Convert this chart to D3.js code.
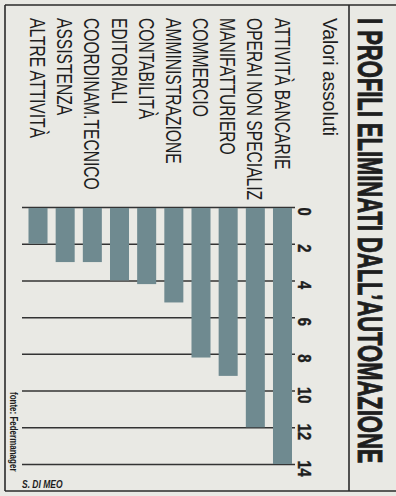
<!DOCTYPE html>
<html>
<head>
<meta charset="utf-8">
<script src="https://cdn.jsdelivr.net/npm/d3@7"></script>
<style>
  html, body { margin: 0; padding: 0; background: #e9e9e4; }
  svg { display: block; }
  text { font-family: "Liberation Sans", Arial, sans-serif; fill: #1e1e1e; }
</style>
</head>
<body>
<svg id="chart" width="396" height="496"></svg>
<script>
// ---- data ----
const categories = [
  "ATTIVITÀ BANCARIE",
  "OPERAI NON SPECIALIZ",
  "MANIFATTURIERO",
  "COMMERCIO",
  "AMMINISTRAZIONE",
  "CONTABILITÀ",
  "EDITORIALI",
  "COORDINAM.TECNICO",
  "ASSISTENZA",
  "ALTRE ATTIVITÀ"
];
const values = [14, 12, 9.2, 8.2, 5.2, 4.2, 4, 3, 3, 2];
const tickValues = [0, 2, 4, 6, 8, 10, 12, 14];
const title = "I PROFILI ELIMINATI DALL\u2019AUTOMAZIONE";
const subtitle = "Valori assoluti";
const source = "fonte: Federmanager";
const credit = "S. DI MEO";

// ---- layout ----
const W = 396, H = 496;
const svg = d3.select("#chart");
svg.append("rect").attr("width", W).attr("height", H).attr("fill", "#e9e9e4");

// horizontal condensing via scale transform (x given in unscaled coordinates)
function condensed(sel, x0, f) {
  sel.attr("x", x0 / f).attr("transform", `scale(${f},1)`);
}

// frame (screen coordinates)
const frame = svg.append("g").attr("stroke", "#2a2a2a").attr("stroke-width", 1.6);
frame.append("line").attr("x1", 5).attr("y1", 5).attr("x2", W).attr("y2", 5);
frame.append("line").attr("x1", 5).attr("y1", 5).attr("x2", 5).attr("y2", 491);
frame.append("line").attr("x1", 5).attr("y1", 491).attr("x2", W).attr("y2", 491);
frame.append("line").attr("x1", 349).attr("y1", 5).attr("x2", 349).attr("y2", 491);

// rotated chart group: local x = screen y, local y = W - screen x
const g = svg.append("g").attr("transform", `translate(${W},0) rotate(90)`);

const x = d3.scaleLinear().domain([0, 14]).range([207, 464]);
const y = d3.scaleBand().domain(categories).range([104, 367.5]).paddingInner(0.3);

// gridlines + tick labels via axis
const axis = g.append("g")
  .attr("transform", "translate(0,101)")
  .call(d3.axisTop(x).tickValues(tickValues).tickSize(-273).tickPadding(3));
axis.select(".domain").remove();
axis.selectAll(".tick line").attr("stroke", "#333").attr("stroke-width", 1.5);
axis.selectAll(".tick text")
  .attr("fill", "#1e1e1e")
  .attr("font-size", 18)
  .attr("font-weight", "bold")
  .attr("font-family", "Liberation Sans, Arial, sans-serif")
  .attr("stroke", "#1e1e1e").attr("stroke-width", 0.4)
  .attr("dx", 5)
  .attr("transform", "scale(0.82,1)");

// bars
g.selectAll("rect.bar")
  .data(categories)
  .join("rect")
  .attr("class", "bar")
  .attr("x", x(0) + 1)
  .attr("y", d => y(d))
  .attr("width", (d, i) => x(values[i]) - x(0) - 1)
  .attr("height", y.bandwidth())
  .attr("fill", "#6f8a90");

// category labels
g.selectAll("text.cat")
  .data(categories)
  .join("text")
  .attr("class", "cat")
  .attr("y", d => y(d) + y.bandwidth() / 2 + 8)
  .attr("font-size", 22)
  .text(d => d)
  .call(condensed, 18, 0.71);

// title
g.append("text")
  .attr("y", 38)
  .attr("font-size", 36)
  .attr("font-weight", "bold")
  .attr("stroke", "#1e1e1e").attr("stroke-width", 0.9)
  .text(title)
  .call(condensed, 18, 0.61);

// subtitle
g.append("text")
  .attr("y", 73)
  .attr("font-size", 20)
  .text(subtitle)
  .call(condensed, 18, 0.96);

// source note
g.append("text")
  .attr("y", 386)
  .attr("font-size", 10)
  .attr("font-weight", "bold")
  .text(source)
  .call(condensed, 392, 0.8);

// credit (horizontal on screen)
svg.append("text")
  .attr("y", 488)
  .attr("font-size", 10)
  .attr("font-style", "italic")
  .attr("font-weight", "bold")
  .text(credit)
  .call(condensed, 22, 0.85);
</script>
</body>
</html>
